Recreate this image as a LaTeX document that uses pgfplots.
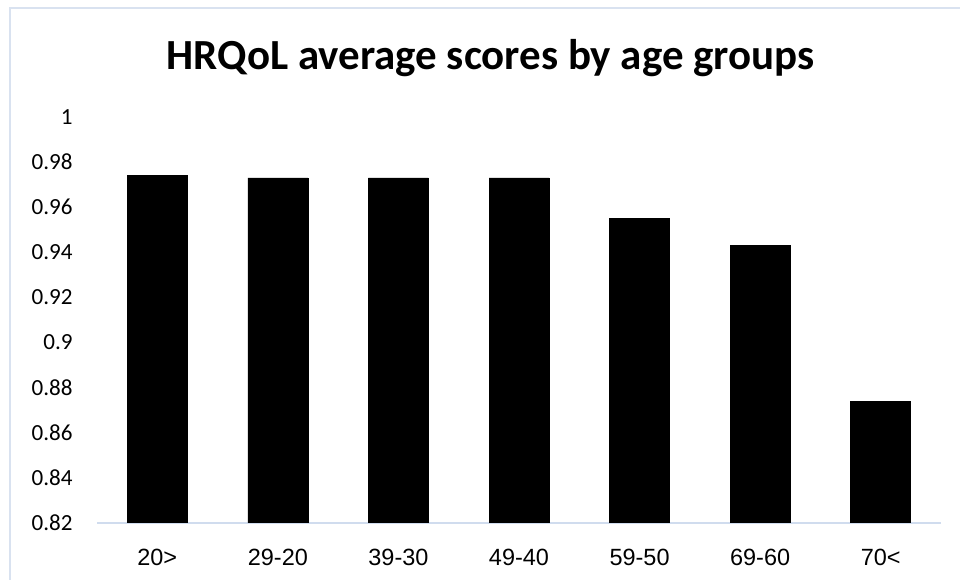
\documentclass[border=0pt]{standalone}
\usepackage{fontspec}
\usepackage{pgfplots}
\pgfplotsset{compat=1.18}
\setmainfont{Carlito}
\newfontfamily\arialfont{Liberation Sans}
\definecolor{framecol}{RGB}{217,226,240}
\definecolor{axiscol}{RGB}{208,220,238}

\begin{document}
\begin{tikzpicture}[x=1pt,y=1pt]
\useasboundingbox (0,0) rectangle (720,435);
\fill[white] (0,0) rectangle (720,435);
% chart area border (left and top edges)
\draw[framecol, line width=1.2pt] (7.5,-5) -- (7.5,429) -- (725,429);
\node[font=\bfseries\fontsize{32.2}{40}\selectfont, anchor=base] at (368,383) {HRQoL average scores by age groups};
\begin{axis}[
  at={(72.75pt,42.75pt)}, anchor=south west,
  scale only axis, width=633pt, height=304.5pt,
  xmin=-0.5, xmax=6.5, ymin=0.82, ymax=1,
  ybar, bar width=45pt,
  axis x line=bottom, axis y line=left,
  y axis line style={draw=none},
  x axis line style={axiscol, line width=1pt, -},
  tick style={draw=none},
  xtick={0,1,2,3,4,5,6},
  xticklabels={20>,29-20,39-30,49-40,59-50,69-60,70<},
  ytick={0.82,0.84,0.86,0.88,0.9,0.92,0.94,0.96,0.98,1},
  yticklabels={0.82,0.84,0.86,0.88,0.9,0.92,0.94,0.96,0.98,1},
  xticklabel style={font=\arialfont\fontsize{17.6}{20}\selectfont, anchor=north, inner sep=0pt},
  yticklabel style={font=\fontsize{17.3}{20}\selectfont, anchor=east, inner sep=0pt},
  xticklabel shift=17pt,
  yticklabel shift=16pt,
]
\addplot[fill=black, draw=black] coordinates {
  (0,0.974) (1,0.973) (2,0.973) (3,0.973) (4,0.955) (5,0.943) (6,0.874)
};
\end{axis}
\end{tikzpicture}
\end{document}
